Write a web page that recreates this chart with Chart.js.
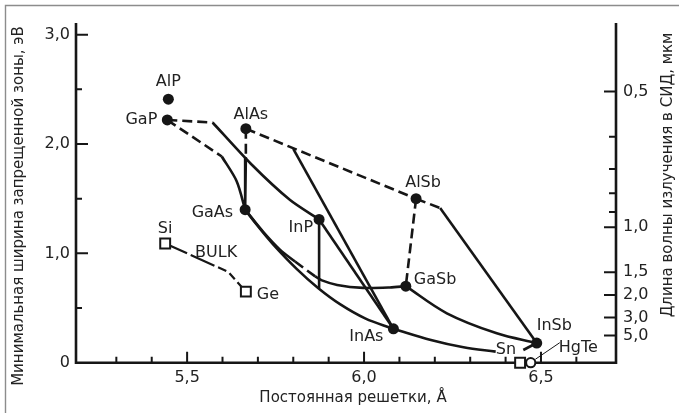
<!DOCTYPE html>
<html>
<head>
<meta charset="utf-8">
<script src="https://cdn.jsdelivr.net/npm/chart.js@4.4.1/dist/chart.umd.min.js"></script>
<style>
  html, body { margin: 0; padding: 0; background: #fff; }
  canvas { display: block; }
</style>
</head>
<body>
<canvas id="chart" width="679" height="413"></canvas>
<script>
// ---- Binary compounds: lattice constant (Å) and minimum band gap (eV) ----
const compoundNames   = ['AlP', 'GaP', 'AlAs', 'GaAs', 'InP', 'AlSb', 'GaSb', 'InAs', 'InSb'];
const compoundLattice = [5.447, 5.444, 5.666, 5.664, 5.873, 6.147, 6.118, 6.083, 6.488];
const compoundGap     = [2.41, 2.22, 2.14, 1.40, 1.31, 1.50, 0.70, 0.31, 0.18];

// ---- Elemental semiconductors / semimetals (open markers) ----
const squareNames   = ['Si', 'Ge', 'Sn'];
const squareLattice = [5.438, 5.666, 6.441];
const squareGap     = [1.09, 0.65, 0];
const circleNames   = ['HgTe'];
const circleLattice = [6.471];
const circleGap     = [0];

// ---- Alloy curves, [lattice, gap] pairs ----
const gaInP_indirect   = [[5.444, 2.22], [5.572, 2.197]];
const gaInP_direct     = [[5.572, 2.197], [5.68, 1.82], [5.791, 1.488], [5.873, 1.31]];
const gaAsP_indirect   = [[5.444, 2.22], [5.598, 1.886]];
const gaAsP_direct     = [[5.598, 1.886], [5.64, 1.66], [5.664, 1.40]];
const alGaAs_indirect  = [[5.666, 2.14], [5.666, 1.88]];
const alGaAs_direct    = [[5.666, 1.88], [5.664, 1.40]];
const alAsSb           = [[5.666, 2.14], [6.147, 1.50]];
const alInAs           = [[5.80, 1.956], [6.083, 0.31]];
const alGaSb           = [[6.147, 1.50], [6.118, 0.70]];
const alInSb_indirect  = [[6.147, 1.50], [6.215, 1.414]];
const alInSb_direct    = [[6.215, 1.414], [6.488, 0.18]];
const gaInSb           = [[6.118, 0.70], [6.234, 0.452], [6.375, 0.269], [6.488, 0.18]];
const inAsSb_left      = [[6.083, 0.31], [6.189, 0.208], [6.281, 0.141], [6.372, 0.101]];
const inAsSb_right     = [[6.45, 0.116], [6.488, 0.18]];
const gaInAs           = [[5.664, 1.40], [5.698, 1.257], [5.743, 1.083], [5.811, 0.854], [5.870, 0.684],
                          [5.932, 0.536], [6.003, 0.406], [6.083, 0.31]];
const gaAsSb_upper     = [[5.664, 1.40], [5.715, 1.197], [5.763, 1.032], [5.805, 0.925]];
const gaAsSb_mid       = [[5.805, 0.925], [5.862, 0.789]];
const gaAsSb_lower     = [[5.862, 0.789], [5.881, 0.753], [5.924, 0.711], [5.997, 0.684], [6.073, 0.688], [6.118, 0.70]];
const inPAs            = [[5.873, 1.31], [6.083, 0.31]];
const inGaAsOnInP      = [[5.873, 1.31], [5.873, 0.68]];
const siGeBulk         = [[5.438, 1.09], [5.616, 0.831], [5.666, 0.65]];
const hgTeLeader       = [[6.484, 0.031], [6.553, 0.183]];

// ---- Axis ticks ----
const energyMajorTicks     = [0, 1, 2, 3];
const energyMinorTicks     = [0.5, 1.5, 2.5];
const latticeMajorTicks    = [5.5, 6.0, 6.5];
const latticeMinorTicks    = [5.3, 5.4, 5.6, 5.7, 5.8, 5.9, 6.1, 6.2, 6.3, 6.4, 6.6];
const wavelengthMajorTicks = [0.5, 1.0, 1.5, 2.0, 3.0, 5.0];
const wavelengthMinorTicks = [0.6, 0.7, 0.8, 0.9];
const HC = 1.24; // eV·мкм, λ = HC / E

// ---- Styling ----
const INK = '#161616';
const FONT = '"DejaVu Sans", sans-serif';
const TEXT = '#222';

const comma = v => v.toFixed(1).replace('.', ',');
const toPoints = arr => arr.map(p => ({ x: p[0], y: p[1] }));

function curve(arr, dashed, tension, width) {
  return {
    data: toPoints(arr),
    showLine: true,
    borderColor: INK,
    borderWidth: width || 2.6,
    borderDash: dashed ? [10, 5] : [],
    pointRadius: 0,
    tension: tension || 0,
    clip: false,
    order: 2
  };
}

const datasets = [
  // markers (drawn on top)
  {
    data: compoundLattice.map((x, i) => ({ x, y: compoundGap[i] })),
    showLine: false, pointRadius: 5.5, pointBackgroundColor: INK, pointBorderColor: INK,
    pointBorderWidth: 0, clip: false, order: 0
  },
  {
    data: squareLattice.map((x, i) => ({ x, y: squareGap[i] })),
    showLine: false, pointStyle: 'rect', pointRadius: 7, pointBackgroundColor: '#fff',
    pointBorderColor: INK, pointBorderWidth: 2, clip: false, order: 0
  },
  {
    data: circleLattice.map((x, i) => ({ x, y: circleGap[i] })),
    showLine: false, pointStyle: 'circle', pointRadius: 4.6, pointBackgroundColor: '#fff',
    pointBorderColor: INK, pointBorderWidth: 2, clip: false, order: 0
  },
  // alloy lines
  curve(gaInP_indirect, true),
  curve(gaInP_direct, false, 0.25),
  curve(gaAsP_indirect, true),
  curve(gaAsP_direct, false, 0.3),
  curve(alGaAs_indirect, true),
  curve(alGaAs_direct, false),
  curve(alAsSb, true),
  curve(alInAs, false),
  curve(alGaSb, true),
  curve(alInSb_indirect, true),
  curve(alInSb_direct, false),
  curve(gaInSb, false, 0.35),
  curve(inAsSb_left, false, 0.35),
  curve(inAsSb_right, false),
  curve(gaInAs, false, 0.4),
  curve(gaAsSb_upper, false, 0.3),
  curve(gaAsSb_mid, true),
  curve(gaAsSb_lower, false, 0.3),
  curve(inPAs, false),
  curve(inGaAsOnInP, false),
  Object.assign(curve(siGeBulk, false, 0, 2.2), { borderDash: [24, 4, 26, 4, 9, 4, 8, 4] }),
  curve(hgTeLeader, false, 0, 1)
];

// Label placement relative to the marker (pixels)
const labelPlacement = {
  AlP:  { dx: 0,   dy: -17, align: 'center' },
  GaP:  { dx: -10, dy: 0,   align: 'right' },
  AlAs: { dx: 5,   dy: -14, align: 'center' },
  GaAs: { dx: -12, dy: 3,   align: 'right' },
  InP:  { dx: -6,  dy: 8,   align: 'right' },
  AlSb: { dx: 7,   dy: -16, align: 'center' },
  GaSb: { dx: 8,   dy: -6,  align: 'left' },
  InAs: { dx: -10, dy: 8,   align: 'right' },
  InSb: { dx: 0,   dy: -17, align: 'left' },
  Si:   { dx: 0,   dy: -15, align: 'center' },
  Ge:   { dx: 11,  dy: 3,   align: 'left' },
  Sn:   { dx: -4,  dy: -13, align: 'right' },
  HgTe: { dx: 28,  dy: -15, align: 'left' }
};
const bulkLabel = { text: 'BULK', at: [5.582, 1.009] };

const axesPlugin = {
  id: 'axesFrame',
  beforeDatasetsDraw(chart) {
    const { ctx, chartArea: a, scales } = chart;
    ctx.save();
    // outer frame
    ctx.strokeStyle = '#8c8c8c';
    ctx.lineWidth = 1.4;
    ctx.beginPath();
    ctx.moveTo(5.5, 413); ctx.lineTo(5.5, 5.5); ctx.lineTo(679, 5.5);
    ctx.stroke();

    // axis lines
    ctx.strokeStyle = INK;
    ctx.lineWidth = 2.6;
    ctx.lineJoin = 'miter';
    ctx.beginPath();
    ctx.moveTo(a.left, a.top);
    ctx.lineTo(a.left, a.bottom);
    ctx.lineTo(a.right, a.bottom);
    ctx.lineTo(a.right, a.top);
    ctx.stroke();

    // inward ticks
    ctx.lineWidth = 2;
    const hTick = (x, y, len) => { ctx.moveTo(x, y); ctx.lineTo(x + len, y); };
    const vTick = (x, y, len) => { ctx.moveTo(x, y); ctx.lineTo(x, y - len); };
    ctx.beginPath();
    energyMajorTicks.filter(v => v > 0).forEach(v => hTick(a.left, scales.y.getPixelForValue(v), 12));
    energyMinorTicks.forEach(v => hTick(a.left, scales.y.getPixelForValue(v), 6));
    latticeMajorTicks.forEach(v => vTick(scales.x.getPixelForValue(v), a.bottom, 11));
    latticeMinorTicks.forEach(v => vTick(scales.x.getPixelForValue(v), a.bottom, 6));
    wavelengthMajorTicks.forEach(l => hTick(a.right, scales.y2.getPixelForValue(HC / l), -12));
    wavelengthMinorTicks.forEach(l => hTick(a.right, scales.y2.getPixelForValue(HC / l), -7));
    ctx.stroke();
    ctx.restore();
  },
  afterDraw(chart) {
    const { ctx, scales } = chart;
    ctx.save();
    ctx.fillStyle = TEXT;
    ctx.font = '16px ' + FONT;
    ctx.textBaseline = 'middle';
    const put = (name, x, y) => {
      const p = labelPlacement[name];
      ctx.textAlign = p.align;
      ctx.fillText(name, scales.x.getPixelForValue(x) + p.dx, scales.y.getPixelForValue(y) + p.dy);
    };
    compoundNames.forEach((n, i) => put(n, compoundLattice[i], compoundGap[i]));
    squareNames.forEach((n, i) => put(n, squareLattice[i], squareGap[i]));
    circleNames.forEach((n, i) => put(n, circleLattice[i], circleGap[i]));
    ctx.textAlign = 'center';
    ctx.fillText(bulkLabel.text, scales.x.getPixelForValue(bulkLabel.at[0]), scales.y.getPixelForValue(bulkLabel.at[1]));

    // axis titles
    ctx.font = '15px ' + FONT;
    ctx.textAlign = 'center';
    ctx.fillText('Постоянная решетки, Å', 353, 398);
    ctx.save();
    ctx.translate(19, 206);
    ctx.rotate(-Math.PI / 2);
    ctx.fillText('Минимальная ширина запрещенной зоны, эВ', 0, 0);
    ctx.restore();
    ctx.save();
    ctx.translate(668, 175);
    ctx.rotate(-Math.PI / 2);
    ctx.fillText('Длина волны излучения в СИД, мкм', 0, 0);
    ctx.restore();
    ctx.restore();
  }
};

const tickFont = { family: FONT, size: 16 };

new Chart(document.getElementById('chart'), {
  type: 'scatter',
  data: { datasets },
  options: {
    responsive: false,
    animation: false,
    events: [],
    layout: { padding: { top: 23, left: 0, right: 0, bottom: 0 } },
    plugins: { legend: { display: false }, tooltip: { enabled: false } },
    scales: {
      x: {
        type: 'linear', position: 'bottom', min: 5.186, max: 6.712,
        border: { display: false }, grid: { display: false, drawTicks: false },
        ticks: { padding: 6, font: tickFont, color: TEXT, autoSkip: false, maxRotation: 0,
                 callback: v => comma(v) },
        afterBuildTicks: s => { s.ticks = latticeMajorTicks.map(v => ({ value: v })); },
        afterFit: s => { s.height = 50.3; }
      },
      y: {
        type: 'linear', position: 'left', min: 0, max: 3.107,
        border: { display: false }, grid: { display: false, drawTicks: false },
        ticks: { padding: 6, font: tickFont, color: TEXT, autoSkip: false,
                 callback: v => (v === 0 ? '0' : comma(v)) },
        afterBuildTicks: s => { s.ticks = energyMajorTicks.map(v => ({ value: v })); },
        afterFit: s => { s.width = 76; }
      },
      y2: {
        type: 'linear', position: 'right', min: 0, max: 3.107,
        border: { display: false }, grid: { display: false, drawTicks: false },
        ticks: { padding: 7, font: tickFont, color: TEXT, autoSkip: false,
                 callback: v => comma(HC / v) },
        afterBuildTicks: s => { s.ticks = wavelengthMajorTicks.map(l => ({ value: HC / l })); },
        afterFit: s => { s.width = 63; }
      }
    }
  },
  plugins: [axesPlugin]
});
</script>
</body>
</html>
